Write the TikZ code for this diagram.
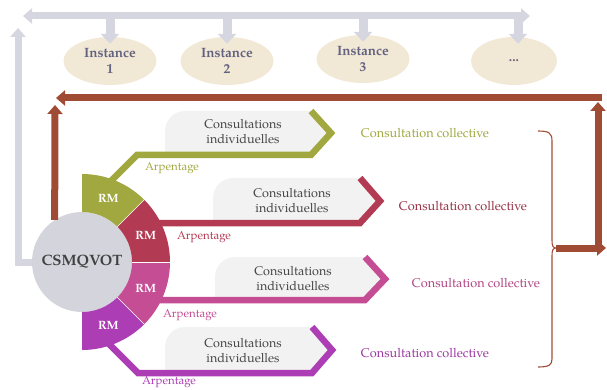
\documentclass[tikz,border=0pt]{standalone}
\usepackage{fontspec}
\setmainfont{TeX Gyre Pagella}
\usepackage{tikz}
\usetikzlibrary{
  shapes.geometric,
  arrows.meta,
  positioning,
  calc
}
\definecolor{linkgray}{RGB}{213, 214, 223}
\definecolor{instbg}{RGB}{242, 232, 214}
\definecolor{insttext}{RGB}{98, 98, 128}
\definecolor{loopbrown}{RGB}{160, 76, 52}
\definecolor{coregray}{RGB}{212, 212, 220}
\definecolor{rmgreen}{RGB}{161, 168, 64}
\definecolor{rmred}{RGB}{178, 58, 82}
\definecolor{rmpink}{RGB}{196, 77, 147}
\definecolor{rmpurple}{RGB}{173, 61, 181}
\definecolor{cibg}{RGB}{242, 242, 242}
\definecolor{citext}{RGB}{70, 70, 70}
\tikzset{
  inst/.style = {
    ellipse, fill=instbg, minimum width=93pt, minimum height=48pt,
    inner sep=0pt, align=center, text=insttext,
    font=\fontsize{13.5}{16}\selectfont\bfseries
  },
  core/.style = {
    circle, fill=coregray, minimum size=100pt, inner sep=0pt,
    text=black!75, font=\fontsize{15}{18}\selectfont\bfseries
  },
  rmlbl/.style = {text=white, font=\fontsize{12}{14}\selectfont\bfseries},
  cilbl/.style = {align=center, text=citext, font=\fontsize{12.6}{15}\selectfont},
  arp/.style   = {text=#1, font=\fontsize{11.5}{14}\selectfont},
  coll/.style  = {text=#1, font=\fontsize{12.7}{15}\selectfont},
  rmline/.style = {draw=#1, line width=6.5pt, line join=miter},
  grayarr/.style = {draw=linkgray, line width=7pt, line join=miter,
    -{Triangle[length=9pt, width=15pt]}},
  droparr/.style = {draw=linkgray, line width=9pt,
    -{Triangle[length=10pt, width=18pt]}},
  brownarr/.style = {draw=loopbrown, line width=7pt,
    -{Triangle[length=9pt, width=15pt]}},
  brace/.style = {draw=loopbrown, line width=1.1pt},
}

\begin{document}
\begin{tikzpicture}[x=1pt, y=-1pt]
  \useasboundingbox (0,0) rectangle (607,390);

  %% -- grey panels behind "Consultations individuelles" ------------------
  \fill[cibg] (165,155) -- (165,131) .. controls (165,120) and (174,111) ..
    (185,111) -- (311,111) -- (331,133) -- (311,155) -- cycle;
  \fill[cibg] (213,223) -- (213,198) .. controls (213,187) and (222,178) ..
    (233,178) -- (360,178) -- (380,201) -- (360,223) -- cycle;
  \fill[cibg] (215,300) -- (215,277) .. controls (215,266) and (224,257) ..
    (235,257) -- (365,257) -- (385,279) -- (365,300) -- cycle;
  \fill[cibg] (165,373) -- (165,347) .. controls (165,336) and (174,327) ..
    (185,327) -- (312,327) -- (332,350) -- (312,373) -- cycle;

  %% -- instances --------------------------------------------------------
  \node[inst] (inst1) at (110,61) {Instance\\1};
  \node[inst] (inst2) at (227,61) {Instance\\2};
  \node[inst] (inst3) at (363,59) {Instance\\3};
  \node[inst, minimum width=86pt] (inst4) at (514,61) {...};

  \coordinate (gL) at (23,16);
  \coordinate (gR) at (530,16);
  \coordinate (gUp) at (18,28);
  \draw[grayarr, {Triangle[length=9pt, width=15pt]}-{Triangle[length=9pt, width=15pt]}]
    (gL) -- (gR);
  \draw[droparr] (inst1.north |- gL) -- ([yshift=-7pt]inst1.north);
  \draw[droparr] (inst2.north |- gL) -- ([yshift=-7pt]inst2.north);
  \draw[droparr] (inst3.north |- gL) -- ([yshift=-7pt]inst3.north);
  \draw[droparr] ([xshift=4pt]inst4.north |- gL) -- ([xshift=4pt, yshift=-7pt]inst4.north);

  %% -- core --------------------------------------------------------------
  \node[core] (csm) at (82,262) {CSMQVOT};
  \draw[grayarr] (csm.west) -| (gUp);

  %% -- feedback loop -----------------------------------------------------
  \coordinate (braceTip) at (556,248);
  \coordinate (loopE) at (606,248);
  \coordinate (loopSE) at (598,251.5);
  \coordinate (loopNE) at (598,102);
  \coordinate (loopTR) at (601.5,98);
  \coordinate (loopTL) at (56,98);
  \coordinate (loopL) at (55,105);
  \draw[brownarr] (braceTip) -- (loopE);
  \draw[brownarr] (loopSE) -- (loopNE);
  \draw[brownarr] (loopTR) -- (loopTL);
  \draw[brownarr] (csm.123) -- (loopL);

  \draw[brace] (538,131) .. controls (549,131) and (552,133) .. (552,141)
    -- (552,240) .. controls (552,246) and (553,248) .. (556,248)
    .. controls (553,248) and (552,250) .. (552,256)
    -- (552,359) .. controls (552,365) and (549,367) .. (538,367);

  %% -- branches ----------------------------------------------------------
  \draw[rmline=rmgreen]  (105,187) -- (137,155) -- (311,155) -- (331,133) -- (311,111);
  \draw[rmline=rmred]    (150,223) -- (360,223) -- (380,201) -- (360,178);
  \draw[rmline=rmpink]   (150,300) -- (365,300) -- (385,279) -- (365,257);
  \draw[rmline=rmpurple] (105,340) -- (138,373) -- (312,373) -- (332,350) -- (312,327);

  %% -- RM ring -----------------------------------------------------------
  \foreach \a/\col in {90/rmgreen, 45/rmred, 0/rmpink, -45/rmpurple} {
    \fill[\col] ($(csm.center)+(\a:50pt)$)
      arc[start angle=\a, end angle=\a-45, radius=50pt]
      -- ($(csm.center)+(\a-45:88pt)$)
      arc[start angle=\a-45, end angle=\a, radius=88pt] -- cycle;
  }
  \foreach \a in {45, 0, -45}
    \draw[white, line width=0.6pt] ($(csm.center)+(\a:50pt)$) -- ($(csm.center)+(\a:88pt)$);

  \node[rmlbl] (rm1) at ($(csm.center)+(67.5:69pt)$) {RM};
  \node[rmlbl] (rm2) at ($(csm.center)+(22.5:69pt)$) {RM};
  \node[rmlbl] (rm3) at ($(csm.center)+(-22.5:69pt)$) {RM};
  \node[rmlbl] (rm4) at ($(csm.center)+(-67.5:69pt)$) {RM};

  %% -- texts -------------------------------------------------------------
  \node[cilbl] (ci1) at (243,132) {Consultations\\individuelles};
  \node[cilbl] (ci2) at (292,201) {Consultations\\individuelles};
  \node[cilbl] (ci3) at (293,279) {Consultations\\individuelles};
  \node[cilbl] (ci4) at (243,351) {Consultations\\individuelles};

  \node[arp=rmgreen]  (arp1) at (172,168) {Arpentage};
  \node[arp=rmred]    (arp2) at (204,237) {Arpentage};
  \node[arp=rmpink]   (arp3) at (190,315) {Arpentage};
  \node[arp=rmpurple] (arp4) at (169,382) {Arpentage};

  \node[coll=rmgreen]          (cc1) at (425,133) {Consultation collective};
  \node[coll=rmred!85!black]   (cc2) at (463,206) {Consultation collective};
  \node[coll=rmpink!90!black]  (cc3) at (476,283) {Consultation collective};
  \node[coll=rmpurple!90!black] (cc4) at (425,353) {Consultation collective};

\end{tikzpicture}
\end{document}
